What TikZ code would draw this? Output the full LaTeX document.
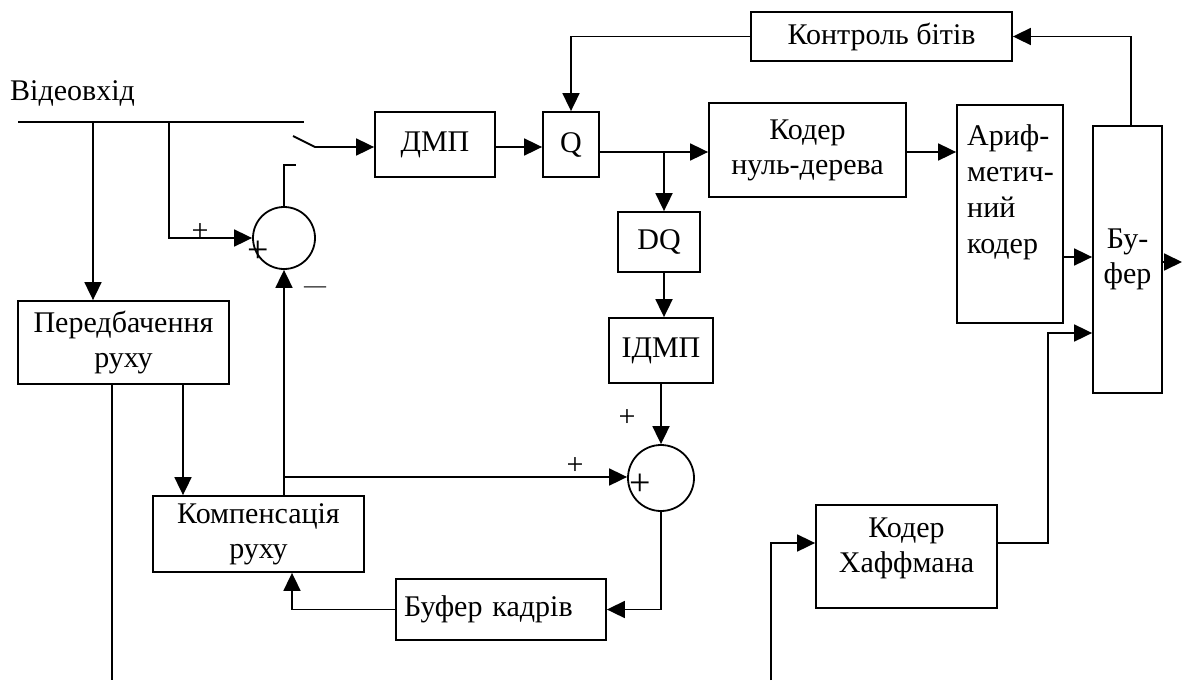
\documentclass[tikz,border=0pt]{standalone}
\usepackage{fontspec}
\setmainfont{Liberation Serif}
\usetikzlibrary{arrows.meta,calc}
\newcommand\fsz{\fontsize{30}{35}\selectfont}
\newcommand\fbig{\fontsize{38}{38}\selectfont}
\begin{document}
\begin{tikzpicture}[x=1pt,y=-1pt,
 blk/.style={draw, line width=1.8pt, inner sep=2pt, align=center, font=\fsz},
 txt/.style={inner sep=0pt, font=\fsz},
 ln/.style={line width=1.8pt},
 arr/.style={ln, -{Triangle[length=18pt,width=17pt]}},
 sum/.style={draw, circle, line width=1.8pt, inner sep=0pt}]
\useasboundingbox (0,0) rectangle (1182,680);
% blocks
\node[txt, anchor=west] (vid) at (10,93) {Відеовхід};
\node[blk, minimum width=120, minimum height=65] (dmp) at (435,144.5) {ДМП};
\node[blk, minimum width=56, minimum height=65] (q) at (571,144.5) {Q};
\node[blk, minimum width=261, minimum height=49] (ctrl) at (881.5,36.5) {Контроль бітів};
\node[blk, minimum width=197, minimum height=94] (nzt) at (807.5,150) {Кодер\\нуль-дерева};
\node[blk, minimum width=82, minimum height=60] (dq) at (659,242) {DQ};
\node[blk, minimum width=104, minimum height=65] (idmp) at (661,350.5) {ІДМП};
\node[blk, minimum width=106, minimum height=218] (ari) at (1010,214) {};
\node[txt, anchor=north west, align=left, font=\fontsize{30}{36}\selectfont] (arit) at (967,124) {Ариф-\\метич-\\ний\\кодер};
\node[blk, minimum width=69, minimum height=267] (buf) at (1127.5,259.5) {Бу-\\фер};
\node[blk, minimum width=181, minimum height=103] (huff) at (906.5,556.5) {};
\node[txt, align=center] (hufft) at (906.5,548) {Кодер\\Хаффмана};
\node[blk, minimum width=211, minimum height=83] (pred) at (123.5,342.5) {Передбачення\\руху};
\node[blk, minimum width=211, minimum height=76] (comp) at (258.5,534) {Компенсація\\руху};
\node[blk, text width=194pt, inner xsep=8pt, minimum height=61, align=left] (fbuf) at (501,609.5) {Буфер кадрів};
\node[sum, minimum size=62] (s1) at (284,238) {};
\node[sum, minimum size=66] (s2) at (661,478) {};
% sign labels
\node[txt] (p1) at (200,232) {+};
\node[txt, font=\fbig] (p1i) at (258,252) {+};
\node[txt, font=\fontsize{22}{22}\selectfont] (m1) at (315,290) {—};
\node[txt] (p2) at (627,418) {+};
\node[txt] (p3) at (575,466) {+};
\node[txt, font=\fbig] (p2i) at (640,485) {+};
% coordinates
\coordinate (in0) at (18,122);
\coordinate (in1) at (304,122);
\coordinate (j1) at (93,122);
\coordinate (j2) at (169,122);
\coordinate (sw0) at (293,136);
\coordinate (sw1) at (315,147);
\coordinate (qy) at (0,152);
\coordinate (br) at (664,152);
\coordinate (j3) at (284,477);
\coordinate (pb) at (112,680);
\coordinate (ay) at (0,257);
\coordinate (hy) at (0,543);
\coordinate (hk) at (1048,333);
\coordinate (hb) at (771,680);
\coordinate (bo) at (1182,262);
\coordinate (ct) at (1131,36.5);
% connectors
\draw[ln] (in0) -- (in1);
\draw[arr] (j1) -- (j1 |- pred.north);
\draw[arr] (j2) |- (s1.west);
\draw[arr] (sw0) -- (sw1) -- (sw1 -| dmp.west);
\draw[arr] (dmp.east |- sw1) -- (q.west |- sw1);
\draw[arr] (q.east |- qy) -- (nzt.west |- qy);
\draw[arr] (br) -- (br |- dq.north);
\draw[arr] (dq.south -| br) -- (br |- idmp.north);
\draw[arr] (idmp.south) -- (s2.north);
\draw[arr] (s2.south) |- (fbuf.east);
\draw[arr] (fbuf.west) -| ($(comp.south)+(33.5,0)$);
\draw[arr] ($(comp.north)+(25.5,0)$) -- (s1.south);
\draw[arr] (j3) -- (j3 -| s2.west);
\draw[ln] (s1.north) -- ++(0,-41) -- ++(12,0);
\draw[arr] ($(pred.south)+(59.5,0)$) -- ($(comp.north)+(-75.5,0)$);
\draw[ln] (pb |- pred.south) -- (pb);
\draw[arr] (nzt.east |- qy) -- (ari.west |- qy);
\draw[arr] (ari.east |- ay) -- (buf.west |- ay);
\draw[arr] (huff.east |- hy) -| (hk) -- (hk -| buf.west);
\draw[arr] (hb) |- (huff.west |- hy);
\draw[arr] (bo -| buf.east) -- (bo);
\draw[arr] (buf.north -| ct) |- (ctrl.east);
\draw[arr] (ctrl.west) -| (q.north);
\end{tikzpicture}
\end{document}
